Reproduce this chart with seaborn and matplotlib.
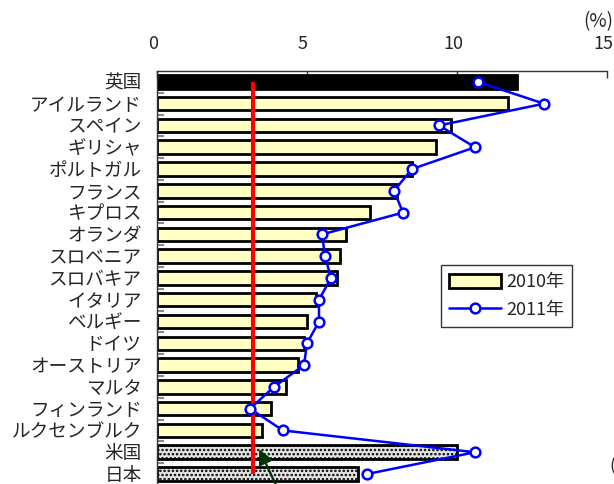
import matplotlib
matplotlib.use("Agg")
import matplotlib.pyplot as plt
import matplotlib.transforms as mtransforms
from matplotlib.patches import Patch
from matplotlib.lines import Line2D
import seaborn as sns
import pandas as pd

countries = ["英国", "アイルランド", "スペイン", "ギリシャ", "ポルトガル", "フランス",
             "キプロス", "オランダ", "スロベニア", "スロバキア", "イタリア", "ベルギー",
             "ドイツ", "オーストリア", "マルタ", "フィンランド", "ルクセンブルク", "米国", "日本"]
values_2010 = [12.0, 11.7, 9.8, 9.3, 8.5, 8.0, 7.1, 6.3, 6.1, 6.0, 5.3, 5.0,
               4.9, 4.7, 4.3, 3.8, 3.5, 10.0, 6.7]
values_2011 = [10.7, 12.9, 9.4, 10.6, 8.5, 7.9, 8.2, 5.5, 5.6, 5.8, 5.4, 5.4,
               5.0, 4.9, 3.9, 3.1, 4.2, 10.6, 7.0]
reference_level = 3.2
x_ticks = [0, 5, 10, 15]

sns.set_style("white")
plt.rcParams["font.family"] = ["Noto Sans CJK JP", "DejaVu Sans"]
plt.rcParams["hatch.linewidth"] = 1.2

df = pd.DataFrame({"country": countries, "y2010": values_2010, "y2011": values_2011})

yellow = "#FFFFC4"
palette = {c: yellow for c in countries}
palette["英国"] = "black"
palette["米国"] = "#e4e4e4"
palette["日本"] = "#e4e4e4"

fig = plt.figure(figsize=(6.14, 4.84), dpi=100)
ax = fig.add_axes([157 / 614, -2 / 484, 450 / 614, 415 / 484])

sns.barplot(data=df, x="y2010", y="country", hue="country", palette=palette,
            order=countries, hue_order=countries, legend=False, width=0.62,
            edgecolor="black", linewidth=2, saturation=1, ax=ax)
for patch, c in zip(ax.patches, countries):
    if c in ("米国", "日本"):
        patch.set_hatch("....")

ax.plot([reference_level, reference_level], [0, 18], color="#FF0000", lw=3,
        solid_capstyle="butt", zorder=4)

sns.pointplot(data=df, x="y2011", y="country", order=countries, color="#0000FF",
              markers="o", errorbar=None, ax=ax, linewidth=1.8, markersize=7,
              markerfacecolor="white", markeredgewidth=1.8, markeredgecolor="#0000FF",
              zorder=5)

ax.annotate("", xy=(3.37, 16.75), xytext=(4.1, 18.9), xycoords="data",
            arrowprops=dict(arrowstyle="-|>", color="#003300", lw=1.6, mutation_scale=22),
            annotation_clip=False, zorder=6)

ax.set_xlim(0, 15)
ax.set_ylim(18.55, -0.5)
ax.xaxis.tick_top()
ax.set_xticks(x_ticks)
ax.set_xticklabels([str(t) for t in x_ticks])
ax.tick_params(axis="x", direction="in", length=5, width=1, color="#333333",
               labelsize=13, pad=13, top=True, bottom=False)
shift = mtransforms.ScaledTranslation(-4 / 100, 0, fig.dpi_scale_trans)
for lbl in ax.get_xticklabels():
    lbl.set_transform(lbl.get_transform() + shift)
ax.tick_params(axis="y", which="major", length=0, labelsize=13.4, pad=11)
ax.set_yticks([i + 0.5 for i in range(len(countries) - 1)], minor=True)
ax.tick_params(axis="y", which="minor", direction="in", length=5, width=1.5,
               color="#888888", left=True)
ax.set_xlabel("")
ax.set_ylabel("")
for side in ("right", "bottom"):
    ax.spines[side].set_visible(False)
for side in ("top", "left"):
    ax.spines[side].set_color("#333333")
    ax.spines[side].set_linewidth(1)

handles = [Patch(facecolor=yellow, edgecolor="black", linewidth=2),
           Line2D([0], [0], color="#0000FF", lw=1.8, marker="o", markersize=7,
                  markerfacecolor="white", markeredgewidth=1.8)]
leg = fig.legend(handles, ["2010年", "2011年"], loc="upper left",
                 bbox_to_anchor=(441 / 614, 1 - 265 / 484), bbox_transform=fig.transFigure,
                 borderaxespad=0, fancybox=False, framealpha=1, edgecolor="#333333",
                 fontsize=13, handlelength=2.9, handleheight=0.8, handletextpad=0.25,
                 borderpad=0.45, labelspacing=0.55)
leg.get_frame().set_linewidth(1)

fig.text(583 / 614, 1 - 22 / 484, "(%)", fontsize=13.5, ha="left", va="center")
fig.text(609 / 614, 1 - 466 / 484, "(", fontsize=13, ha="left", va="center")

fig.savefig("out.png", dpi=100)
